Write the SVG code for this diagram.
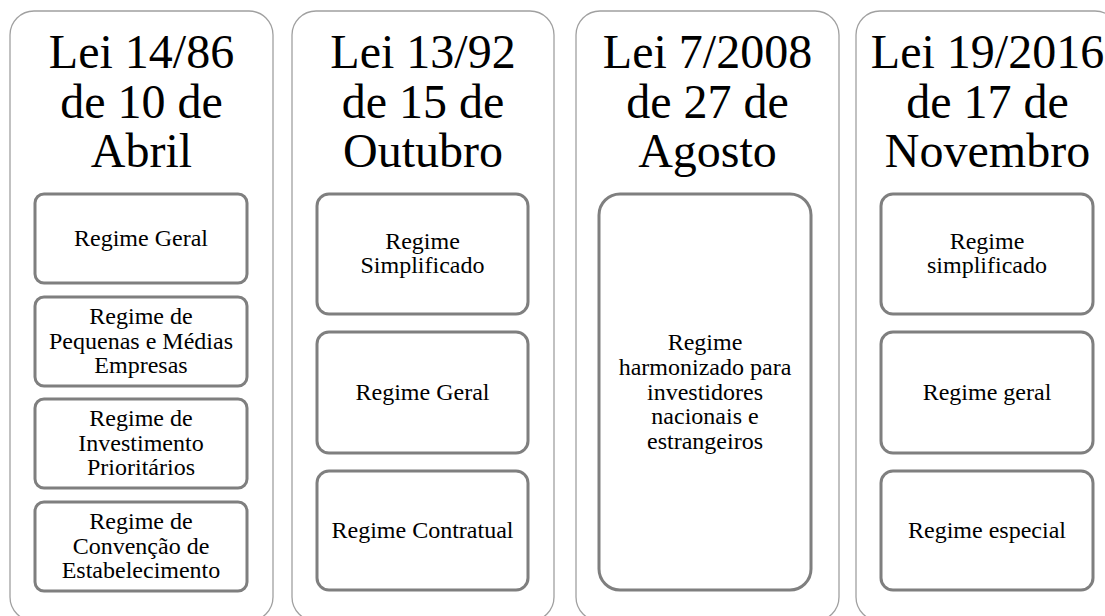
<svg xmlns="http://www.w3.org/2000/svg" width="1105" height="616" viewBox="0 0 1105 616">
<style>
.col{fill:#ffffff;stroke:#a0a0a0;stroke-width:1.3}
.box{fill:#ffffff;stroke:#7f7f7f;stroke-width:3}
.t{font-family:"Liberation Serif","Times New Roman",serif;fill:#000000;text-anchor:middle}
.h{font-size:48px}
.b{font-size:24px}
</style>
<rect width="1105" height="616" fill="#ffffff"/>
<g id="col1">
<rect class="col" x="10" y="11" width="263" height="610" rx="24"/>
<text class="t h" x="141.5" y="68">Lei 14/86</text>
<text class="t h" x="141.5" y="117.5">de 10 de</text>
<text class="t h" x="141.5" y="167">Abril</text>
</g>
<g id="c1b1"><rect class="box" x="35" y="194" width="212" height="89" rx="9"/>
<text class="t b" x="141" y="246">Regime Geral</text></g>
<g id="c1b2"><rect class="box" x="35" y="297" width="212" height="89" rx="9"/>
<text class="t b" x="141" y="323.6">Regime de</text><text class="t b" x="141" y="348.5">Pequenas e Médias</text><text class="t b" x="141" y="373.3">Empresas</text></g>
<g id="c1b3"><rect class="box" x="35" y="399" width="212" height="89" rx="9"/>
<text class="t b" x="141" y="425.6">Regime de</text><text class="t b" x="141" y="450.5">Investimento</text><text class="t b" x="141" y="475.3">Prioritários</text></g>
<g id="c1b4"><rect class="box" x="35" y="502" width="212" height="89" rx="9"/>
<text class="t b" x="141" y="528.6">Regime de</text><text class="t b" x="141" y="553.5">Convenção de</text><text class="t b" x="141" y="578.3">Estabelecimento</text></g>

<g id="col2">
<rect class="col" x="292" y="11" width="262" height="610" rx="24"/>
<text class="t h" x="423" y="68">Lei 13/92</text>
<text class="t h" x="423" y="117.5">de 15 de</text>
<text class="t h" x="423" y="167">Outubro</text>
</g>
<g id="c2b1"><rect class="box" x="317" y="194" width="211" height="120" rx="12"/>
<text class="t b" x="422.5" y="248.6">Regime</text><text class="t b" x="422.5" y="273.4">Simplificado</text></g>
<g id="c2b2"><rect class="box" x="317" y="332" width="211" height="121" rx="12"/>
<text class="t b" x="422.5" y="399.5">Regime Geral</text></g>
<g id="c2b3"><rect class="box" x="317" y="471" width="211" height="119" rx="12"/>
<text class="t b" x="422.5" y="537.5">Regime Contratual</text></g>

<g id="col3">
<rect class="col" x="576" y="11" width="263" height="610" rx="24"/>
<text class="t h" x="707.5" y="68">Lei 7/2008</text>
<text class="t h" x="707.5" y="117.5">de 27 de</text>
<text class="t h" x="707.5" y="167">Agosto</text>
</g>
<g id="c3b1"><rect class="box" x="599" y="194" width="212" height="396" rx="21"/>
<text class="t b" x="705" y="349.8">Regime</text><text class="t b" x="705" y="374.6">harmonizado para</text><text class="t b" x="705" y="399.5">investidores</text><text class="t b" x="705" y="424.3">nacionais e</text><text class="t b" x="705" y="449.2">estrangeiros</text></g>

<g id="col4">
<rect class="col" x="856" y="11" width="263" height="610" rx="24"/>
<text class="t h" x="987.5" y="68">Lei 19/2016</text>
<text class="t h" x="987.5" y="117.5">de 17 de</text>
<text class="t h" x="987.5" y="167">Novembro</text>
</g>
<g id="c4b1"><rect class="box" x="881" y="194" width="212" height="120" rx="12"/>
<text class="t b" x="987" y="248.6">Regime</text><text class="t b" x="987" y="273.4">simplificado</text></g>
<g id="c4b2"><rect class="box" x="881" y="332" width="212" height="121" rx="12"/>
<text class="t b" x="987" y="399.5">Regime geral</text></g>
<g id="c4b3"><rect class="box" x="881" y="471" width="212" height="119" rx="12"/>
<text class="t b" x="987" y="537.5">Regime especial</text></g>
<g id="connectors"></g>
</svg>
